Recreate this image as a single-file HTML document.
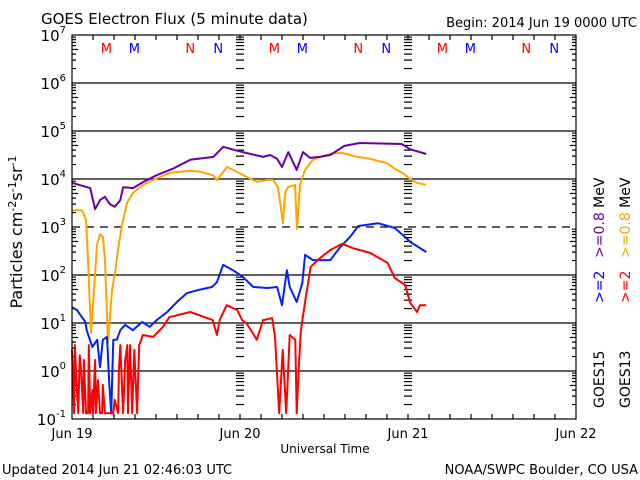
<!DOCTYPE html>
<html><head><meta charset="utf-8"><style>
html,body{margin:0;padding:0;background:#fff;}
svg{display:block;font-family:"DejaVu Sans","Liberation Sans",sans-serif;}
</style></head><body>
<svg id="chart" width="640" height="480" viewBox="0 0 640 480" xmlns="http://www.w3.org/2000/svg">
<text x="41" y="24" font-size="15" fill="#000">GOES Electron Flux (5 minute data)</text>
<text x="637" y="27" font-size="13" text-anchor="end" fill="#000">Begin: 2014 Jun 19 0000 UTC</text>
<text transform="translate(22,232) rotate(-90)" font-size="16" text-anchor="middle" fill="#000">Particles cm<tspan dy="-6" font-size="11">-2</tspan><tspan dy="6">s</tspan><tspan dy="-6" font-size="11">-1</tspan><tspan dy="6">sr</tspan><tspan dy="-6" font-size="11">-1</tspan></text>
<text x="325" y="453" font-size="12" text-anchor="middle" fill="#000">Universal Time</text>
<text x="2" y="474" font-size="13" fill="#000">Updated 2014 Jun 21 02:46:03 UTC</text>
<text x="638" y="474" font-size="13" text-anchor="end" fill="#000">NOAA/SWPC Boulder, CO USA</text>
<g id="grid"></g><g id="ticks"></g><g id="series"></g><g id="labels"></g>
<g font-size="14">
<text transform="translate(604,408) rotate(-90)" fill="#000">GOES15</text>
<text transform="translate(630,408) rotate(-90)" fill="#000">GOES13</text>
<text transform="translate(604,303) rotate(-90)" fill="#0000ff">&gt;=2</text>
<text transform="translate(630,303) rotate(-90)" fill="#ff0000">&gt;=2</text>
<text transform="translate(604,258) rotate(-90)"><tspan fill="#6600aa">&gt;=0.8</tspan><tspan fill="#000"> MeV</tspan></text>
<text transform="translate(630,258) rotate(-90)"><tspan fill="#ffa500">&gt;=0.8</tspan><tspan fill="#000"> MeV</tspan></text>
</g>
<rect x="72" y="35" width="504" height="384" fill="none" stroke="#000" stroke-width="1.2"/>
</svg>
<script>
const NS="http://www.w3.org/2000/svg";
const dayLabels=["Jun 19","Jun 20","Jun 21","Jun 22"];
const yTickExps=[-1,0,1,2,3,4,5,6,7];
// series: hours since Jun 19 00 UTC, log10 flux
const purpleH=[0,2.6,3.3,4,4.7,5.4,6.1,6.9,7.3,8.7,10.2,12.1,14.5,16.9,20.2,21.6,23.3,25,27.3,28.3,29.3,30,30.9,32.1,33,34,35.4,36.9,38.9,41.1,47.1,48.3,50.6];
const purpleV=[3.92,3.81,3.37,3.56,3.63,3.48,3.42,3.56,3.83,3.81,3.94,4.08,4.22,4.4,4.46,4.67,4.6,4.54,4.46,4.5,4.42,4.25,4.56,4.19,4.56,4.44,4.46,4.5,4.69,4.75,4.73,4.62,4.52];
const orangeH=[0,1.43,2,2.29,2.71,3.14,3.57,4,4.43,4.71,5.14,5.71,6.14,6.57,7.14,7.86,8.71,10.14,11.57,14,16.86,18.29,20.14,20.71,22.14,23,25,26.43,27.86,28.71,29.43,30.14,30.43,30.86,31.86,32.14,32.57,33.29,34.43,35.43,37.29,38.71,40.71,42.57,45,46.14,47.29,48.29,49.29,50.57];
const orangeV=[3.35,3.35,3.15,2.31,0.79,1.69,2.63,2.85,2.79,2.31,0.58,1.69,2.04,2.52,3.04,3.5,3.71,3.88,3.98,4.13,4.17,4.15,4.08,3.98,4.25,4.19,4.04,3.94,3.98,3.98,3.83,3.08,3.71,3.83,3.88,2.96,3.88,4.19,4.4,4.46,4.54,4.54,4.46,4.42,4.33,4.21,4.12,4.0,3.92,3.88];
const blueH=[0,0.7,1.9,2.1,2.9,3.6,4,4.4,5,5.3,5.6,5.9,6.4,6.9,7.6,8.7,10,11.1,12.1,13.6,15,16.4,18.1,20,20.7,21.6,23,24.4,25.9,27.9,29.3,30,30.7,31.1,32.1,32.9,33.3,34.4,35.4,36.9,38.3,39.7,40.9,43.7,46.1,47.6,48.3,50.6];
const blueV=[1.33,1.27,1.02,0.85,0.5,0.65,0.08,0.65,0.71,-0.19,-0.88,0.65,0.65,0.85,0.96,0.85,1.02,0.92,1.06,1.23,1.44,1.62,1.69,1.75,1.85,2.21,2.1,1.96,1.75,1.73,1.75,1.37,2.1,1.75,1.44,1.83,2.42,2.31,2.31,2.31,2.58,2.79,3.02,3.08,2.98,2.79,2.69,2.48];
const redH=[0,0.3,0.4,0.7,0.9,1.1,1.3,1.6,1.7,2,2.3,2.4,2.6,2.9,3,3.3,3.4,3.7,4,4.3,4.4,4.7,5,5.3,5.6,5.9,6.1,6.6,6.7,6.9,7.3,7.6,7.9,8,8.3,8.6,8.9,9.3,9.6,9.9,10.1,11.6,13,13.9,16.9,20.1,20.7,21.1,22.1,23.6,24.3,25,26.4,27.3,28.6,29,29.6,30.1,30.6,31.1,31.9,32.1,32.4,32.7,33.4,34.1,35.4,36.9,38.6,40.1,42.6,45.1,46.1,47.6,48.3,49.3,49.7,50.6];
const redV=[0.44,-0.88,0.54,-0.4,-0.88,0.33,0.02,-0.88,0.23,-0.88,-0.88,0.54,-0.88,-0.4,-0.88,0.23,-0.88,-0.19,-0.88,-0.88,-0.29,-0.88,-0.88,-0.88,-0.88,-0.88,-0.6,-0.88,0.02,0.54,-0.88,0.23,0.54,-0.88,0.54,-0.88,0.44,-0.88,0.54,0.65,0.75,0.71,0.92,1.12,1.23,1.06,0.75,1.06,1.37,1.27,1.06,0.98,0.65,1.06,1.1,0.71,-0.88,0.44,-0.88,0.75,0.65,-0.88,0.08,0.85,1.54,2.17,2.35,2.52,2.65,2.56,2.46,2.25,1.94,1.79,1.42,1.23,1.37,1.37];
const markerLabels=["M","M","N","N","M","M","N","N","M","M","N","N"];
const markerH=[4.9,8.9,16.9,20.9,28.9,32.9,40.9,44.9,52.9,56.9,64.9,68.9];
const markerColors=["#ff0000","#0000ff"];

const X0=72,X1=576,Y0=35,Y1=419,HOURS=72;
const xs=h=>X0+(h/HOURS)*(X1-X0);
const ys=v=>Y0+(7-v)*(Y1-Y0)/8;
function mk(tag,attrs,parent){const e=document.createElementNS(NS,tag);for(const k in attrs)e.setAttribute(k,attrs[k]);parent.appendChild(e);return e;}
const grid=document.getElementById('grid'),ticks=document.getElementById('ticks'),series=document.getElementById('series'),labels=document.getElementById('labels');
yTickExps.forEach(e=>{
  if(e>-1&&e<7){
    const l=mk('line',{x1:X0,x2:X1,y1:ys(e),y2:ys(e),stroke:'#000','stroke-width':1.2},grid);
    if(e===3)l.setAttribute('stroke-dasharray','8,6');
    
    
  }
  const t=mk('text',{x:X0-6,y:ys(e)+6,'text-anchor':'end','font-size':15,fill:'#000'},labels);
  t.textContent='10';
  const s=mk('tspan',{dy:-8,'font-size':10},t);s.textContent=String(e);
  
  
});
let dpath='';
for(let e=-1;e<7;e++){
  for(let m=2;m<10;m++){
    const y=ys(e+Math.log10(m));
    const len=m===5?6:4;
    dpath+=`M${X0} ${y}h${len}M${X1} ${y}h${-len}`;
    [1,2].forEach(d=>{const x=X0+d*168;dpath+=`M${x-4} ${y}h8`;});
  }
}
for(let h=3;h<HOURS;h+=3){const x=xs(h);dpath+=`M${x} ${Y1}v-5M${x} ${Y0}v5`;}
const tp=mk('path',{d:dpath,stroke:'#000','stroke-width':1.2,fill:'none'},ticks);


dayLabels.forEach((d,i)=>{
  const t=mk('text',{x:xs(i*24),y:438,'text-anchor':'middle','font-size':13,fill:'#000'},labels);
  t.textContent=d;
  
  
});
markerLabels.forEach((m,i)=>{
  const t=mk('text',{x:xs(markerH[i]),y:53,'text-anchor':'middle','font-size':13,fill:markerColors[i%2]},labels);
  t.textContent=m;
  
  
});
function line(H,V,color,name){
  let d='';H.forEach((h,i)=>{d+=(i?'L':'M')+xs(h).toFixed(1)+' '+ys(V[i]).toFixed(1);});
  const p=mk('path',{d:d,stroke:color,'stroke-width':2,fill:'none','stroke-linejoin':'round'},series);
  
  
}
line(orangeH,orangeV,'#ffa500','series-goes13-0.8mev');
line(purpleH,purpleV,'#6600aa','series-goes15-0.8mev');
line(blueH,blueV,'#0022ff','series-goes15-2mev');
line(redH,redV,'#ff0000','series-goes13-2mev');
</script>
</body></html>
